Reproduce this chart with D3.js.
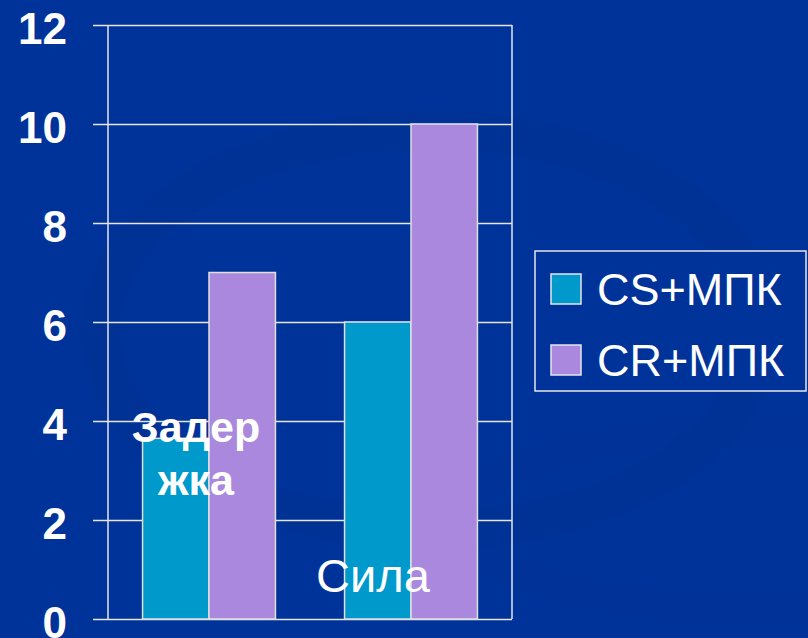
<!DOCTYPE html>
<html lang="ru">
<head>
  <meta charset="UTF-8">
  <title>Bar Chart</title>
  <script src="https://d3js.org/d3.v7.min.js"></script>
  <style>
    body { margin: 0; background: #003399; }
    svg { display: block; }
  </style>
</head>
<body>
<div class="main"></div>
<script>
  // data
  var categories = ["Задержка", "Сила"];
  var labelLines = [["Задер", "жка"], ["Сила"]];
  var seriesNames = ["CS+МПК", "CR+МПК"];
  var csValues = [3.65, 6];
  var crValues = [7, 10];
  var tickValues = [0, 2, 4, 6, 8, 10, 12];
  var colors = ["#0099cc", "#aa88dd"];

  var width = 808, height = 638;
  var margin = {left: 108, top: 25, right: 296, bottom: 19};

  var svg = d3.select(".main")
          .append("svg")
          .attr("width", width)
          .attr("height", height);

  // background + faint swooshes
  svg.append("rect").attr("width", width).attr("height", height).attr("fill", "#003399");
  svg.append("ellipse")
          .attr("cx", 430).attr("cy", 330).attr("rx", 330).attr("ry", 200)
          .attr("fill", "none").attr("stroke", "#003193").attr("stroke-width", 40).attr("opacity", 0.5);
  svg.append("ellipse")
          .attr("cx", 760).attr("cy", 520).attr("rx", 300).attr("ry", 90)
          .attr("fill", "none").attr("stroke", "#003195").attr("stroke-width", 30).attr("opacity", 0.4);

  var xScale = d3.scaleBand()
          .domain(categories)
          .range([margin.left, width - margin.right]);

  var xInner = d3.scaleBand()
          .domain(seriesNames)
          .range([0, xScale.bandwidth()])
          .paddingOuter(0.52);

  var yScale = d3.scaleLinear()
          .domain([0, 12])
          .range([height - margin.bottom, margin.top]);

  // grid lines, drawn from the right edge leftwards past the axis (tick marks)
  var yAxis = d3.axisLeft(yScale)
          .tickValues(tickValues)
          .tickSize((width - margin.right - margin.left) + 15)
          .tickFormat("");

  svg.append("g")
          .attr("transform", `translate(${width - margin.right}, 0)`)
          .call(yAxis)
          .call(g => g.select(".domain").remove())
          .call(g => g.selectAll(".tick line").attr("stroke", "#e6e6e6").attr("stroke-width", 1.5));

  // frame lines left and right
  svg.append("line")
          .attr("x1", margin.left).attr("x2", margin.left)
          .attr("y1", yScale(12)).attr("y2", yScale(0))
          .attr("stroke", "#e6e6e6").attr("stroke-width", 1.5);
  svg.append("line")
          .attr("x1", width - margin.right).attr("x2", width - margin.right)
          .attr("y1", yScale(12)).attr("y2", yScale(0))
          .attr("stroke", "#e6e6e6").attr("stroke-width", 1.5);

  // tick labels
  svg.append("g").selectAll("text")
          .data(tickValues)
          .join("text")
          .attr("x", 67)
          .attr("y", d => yScale(d) + 19)
          .attr("text-anchor", "end")
          .attr("fill", "white")
          .style("font-family", "'Liberation Sans', Arial, sans-serif")
          .style("font-weight", "bold")
          .style("font-size", "44px")
          .text(d => d);

  // bars
  var rows = categories.map((c, i) => ({cat: c, values: [csValues[i], crValues[i]]}));
  var groups = svg.append("g").selectAll("g")
          .data(rows)
          .join("g")
          .attr("transform", d => `translate(${xScale(d.cat)}, 0)`);

  groups.selectAll("rect")
          .data(d => d.values.map((v, j) => ({name: seriesNames[j], value: v, color: colors[j]})))
          .join("rect")
          .attr("x", d => xInner(d.name))
          .attr("y", d => yScale(d.value))
          .attr("width", xInner.bandwidth())
          .attr("height", d => yScale(0) - yScale(d.value))
          .attr("fill", d => d.color)
          .attr("stroke", "#e0e0e0")
          .attr("stroke-width", 1.5);

  // category labels (drawn over the bars as in the original)
  var labelOffsets = [{dx: -13, y: 442, weight: "bold", size: 43}, {dx: -38, y: 592, weight: "normal", size: 47}];
  categories.forEach(function (c, i) {
    var t = svg.append("text")
            .attr("text-anchor", "middle")
            .attr("fill", "white")
            .style("font-family", "'Liberation Sans', Arial, sans-serif")
            .style("font-weight", labelOffsets[i].weight)
            .style("font-size", labelOffsets[i].size + "px");
    labelLines[i].forEach(function (line, k) {
      t.append("tspan")
              .attr("x", xScale(c) + xScale.bandwidth() / 2 + labelOffsets[i].dx)
              .attr("y", labelOffsets[i].y + k * 53)
              .text(line);
    });
  });

  // legend
  var legend = svg.append("g").attr("transform", "translate(535, 251)");
  legend.append("rect")
          .attr("width", 271).attr("height", 140)
          .attr("fill", "#003399")
          .attr("stroke", "#e6e6e6")
          .attr("stroke-width", 1.5);

  var items = legend.selectAll("g")
          .data(seriesNames)
          .join("g")
          .attr("transform", (d, i) => `translate(16, ${23 + i * 71})`);

  items.append("rect")
          .attr("width", 30).attr("height", 30)
          .attr("fill", (d, i) => colors[i])
          .attr("stroke", "#e6e6e6")
          .attr("stroke-width", 1.5);

  items.append("text")
          .attr("x", 46)
          .attr("y", 31)
          .attr("fill", "white")
          .style("font-family", "'Liberation Sans', Arial, sans-serif")
          .style("font-size", "45px")
          .text(d => d);
</script>
</body>
</html>
